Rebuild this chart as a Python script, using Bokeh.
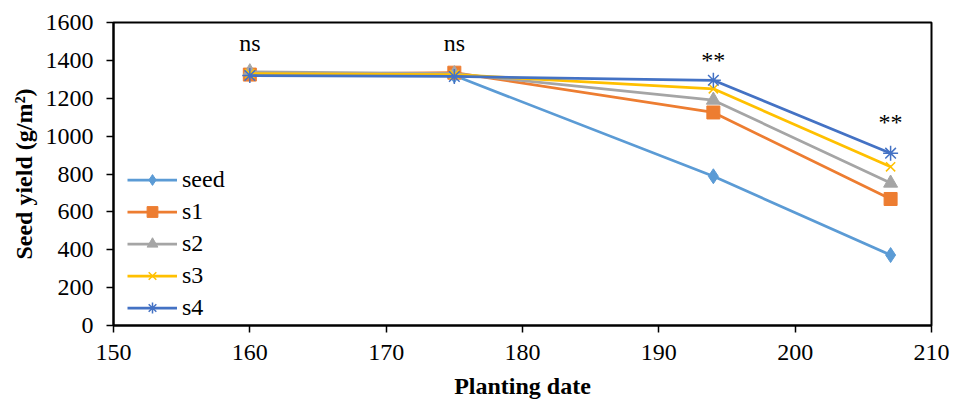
from bokeh.plotting import figure
from bokeh.models import Range1d, FixedTicker, Label
from bokeh.embed import file_html
from bokeh.resources import INLINE

# planting dates (x) and seed yield for each treatment
dates = [160, 175, 194, 207]
seed = [1330, 1320, 788, 372]
s1 = [1325, 1335, 1125, 668]
s2 = [1340, 1330, 1190, 752]
s3 = [1330, 1325, 1250, 838]
s4 = [1320, 1315, 1295, 910]

# significance labels above each date
sig_labels = ["ns", "ns", "**", "**"]
sig_y = [1490, 1490, 1400, 1075]

FONT = "Liberation Serif"

p = figure(
    frame_width=818,
    frame_height=303,
    output_backend="svg",
    toolbar_location=None,
    x_range=Range1d(150, 210),
    y_range=Range1d(0, 1600),
    min_border_left=113,
    min_border_right=22,
    min_border_top=22,
    min_border_bottom=78,
)

series = [
    ("seed", seed, "#5B9BD5", "diamond", 15),
    ("s1", s1, "#ED7D31", "square", 13),
    ("s2", s2, "#A5A5A5", "triangle", 14),
    ("s3", s3, "#FFC000", "x", 13),
    ("s4", s4, "#4472C4", "asterisk", 15),
]

for name, vals, col, marker, sz in series:
    p.line(dates, vals, line_width=2.75, color=col, legend_label=name)
    if marker in ("x", "asterisk"):
        p.scatter(dates, vals, marker=marker, size=sz, line_color=col, line_width=1.5,
                  legend_label=name)
    else:
        p.scatter(dates, vals, marker=marker, size=sz, fill_color=col, line_color=col,
                  legend_label=name)

for d, t, yy in zip(dates, sig_labels, sig_y):
    p.add_layout(Label(x=d, y=yy, text=t, text_font=FONT, text_font_size="24px",
                       text_align="center", text_baseline="middle", text_color="black"))

p.grid.visible = False
p.outline_line_color = "black"
p.outline_line_width = 2

p.xaxis.ticker = FixedTicker(ticks=[150, 160, 170, 180, 190, 200, 210])
p.yaxis.ticker = FixedTicker(ticks=list(range(0, 1601, 200)))

for ax in (p.xaxis, p.yaxis):
    ax.axis_line_color = "black"
    ax.axis_line_width = 2
    ax.major_tick_line_color = "black"
    ax.major_tick_line_width = 1.5
    ax.major_tick_out = 7
    ax.major_tick_in = 0
    ax.minor_tick_line_color = None
    ax.major_label_text_font = FONT
    ax.major_label_text_font_size = "24px"
    ax.major_label_text_color = "black"
    ax.axis_label_text_font = FONT
    ax.axis_label_text_font_size = "24px"
    ax.axis_label_text_font_style = "bold"
    ax.axis_label_text_color = "black"

p.xaxis.axis_label = "Planting date"
p.yaxis.axis_label = "Seed yield (g/m²)"
p.xaxis.major_label_standoff = 12
p.xaxis.axis_label_standoff = 10
p.yaxis.major_label_standoff = 13
p.yaxis.axis_label_standoff = 6

p.legend.location = (14, 4)
p.legend.background_fill_alpha = 0
p.legend.border_line_color = None
p.legend.label_text_font = FONT
p.legend.label_text_font_size = "24px"
p.legend.label_text_color = "black"
p.legend.glyph_width = 50
p.legend.glyph_height = 27
p.legend.spacing = 5
p.legend.label_standoff = 5
p.legend.margin = 0
p.legend.padding = 0

open("out.html", "w").write(file_html(p, INLINE))
